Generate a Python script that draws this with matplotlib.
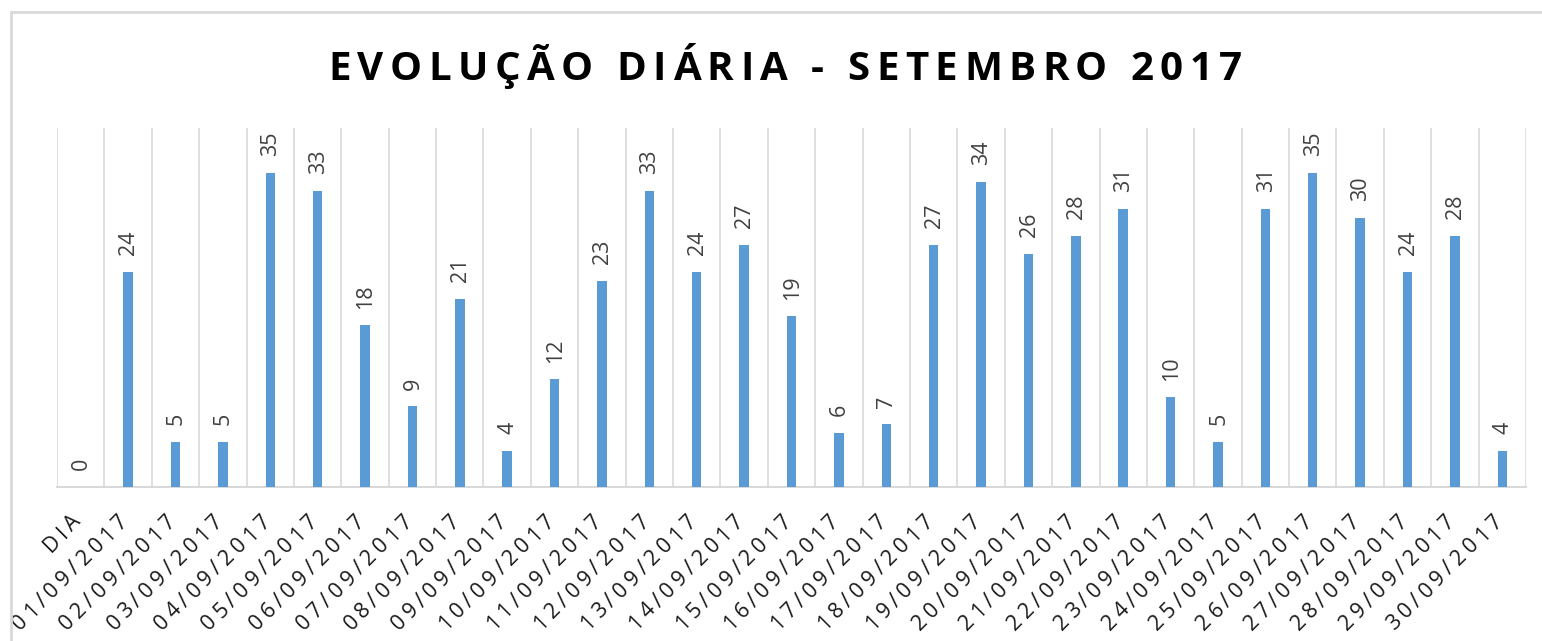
import numpy as np
import matplotlib.pyplot as plt
from matplotlib.patches import Rectangle
from matplotlib import font_manager
from matplotlib.font_manager import FontProperties
from matplotlib.ft2font import FT2Font

# daily counts, September 2017
days = ['DIA'] + ['%02d/09/2017' % d for d in range(1, 31)]
counts = [0, 24, 5, 5, 35, 33, 18, 9, 21, 4, 12, 23, 33, 24, 27, 19, 6, 7,
          27, 34, 26, 28, 31, 10, 5, 31, 35, 30, 24, 28, 4]
title = 'EVOLUÇÃO DIÁRIA - SETEMBRO 2017'

DPI = 100
plt.rcParams['font.family'] = ['Open Sans', 'DejaVu Sans']


def advances(s, fp):
    # glyph advances in pixels, so characters can be spread out
    font = FT2Font(font_manager.findfont(fp))
    font.set_size(fp.get_size_in_points(), DPI)
    out = []
    for ch in s:
        g = font.load_char(ord(ch))
        out.append(g.linearHoriAdvance / 65536)
    return np.array(out)


def spaced_text(ax, s, xy, xycoords, off, angle, fp, spacing, align, color):
    # off: anchor offset in pixels; align 'left', 'center' or 'right'
    adv = advances(s, fp)
    total = adv.sum() + spacing * (len(s) - 1)
    start = {'left': 0, 'center': -total / 2, 'right': -total}[align]
    cum = start + np.concatenate([[0], np.cumsum(adv + spacing)[:-1]])
    d = np.array([np.cos(np.radians(angle)), np.sin(np.radians(angle))])
    for ch, c in zip(s, cum):
        px = np.array(off) + c * d
        ax.annotate(ch, xy=xy, xycoords=xycoords, xytext=px * 72 / DPI,
                    textcoords='offset points', rotation=angle,
                    rotation_mode='anchor', ha='left', va='baseline',
                    fontproperties=fp, color=color, annotation_clip=False)


fig = plt.figure(figsize=(15.42, 6.41), dpi=DPI)
ax = fig.add_axes([57/1542, 1 - 487/641, (1526 - 57)/1542, (487 - 128)/641])

x = np.arange(len(days))
ax.bar(x, counts, width=0.2, color='#5B9BD5', zorder=3)
for xi, v in zip(x, counts):
    ax.annotate(str(v), xy=(xi, v), xytext=(0.5, 12), textcoords='offset points',
                rotation=90, ha='center', va='bottom', fontsize=15.5,
                color='#404040')

ax.set_xlim(-0.5, len(days) - 0.5)
ax.set_ylim(0, 40)
# vertical separators between categories
for b in np.arange(-0.5, len(days), 1):
    ax.axvline(b, color='#D9D9D9', lw=1.2, zorder=1)

ax.set_yticks([])
ax.set_xticks([])
for s in ['top', 'left', 'right']:
    ax.spines[s].set_visible(False)
ax.spines['bottom'].set_color('#D9D9D9')
ax.spines['bottom'].set_linewidth(1.5)

# category labels, letter-spaced, ending just under each category
tick_fp = FontProperties(family='Open Sans', size=15.5)
for xi, lab in zip(x, days):
    spaced_text(ax, lab, (xi, 0), 'data', (1, -35), 45, tick_fp, 4.5,
                'right', '#1a1a1a')

title_fp = FontProperties(family='Open Sans', weight='bold', size=29)
spaced_text(ax, title, (785, 641 - 80), 'figure pixels', (0, 0), 0,
            title_fp, 6.5, 'center', 'black')

# chart frame (cut off at right and bottom)
fig.patches.append(Rectangle((11/1542, -0.05), 1.1, 1 - 12/641 + 0.05,
                             transform=fig.transFigure, fill=False,
                             edgecolor='#D9D9D9', lw=2))

plt.savefig('out.png', dpi=DPI)
